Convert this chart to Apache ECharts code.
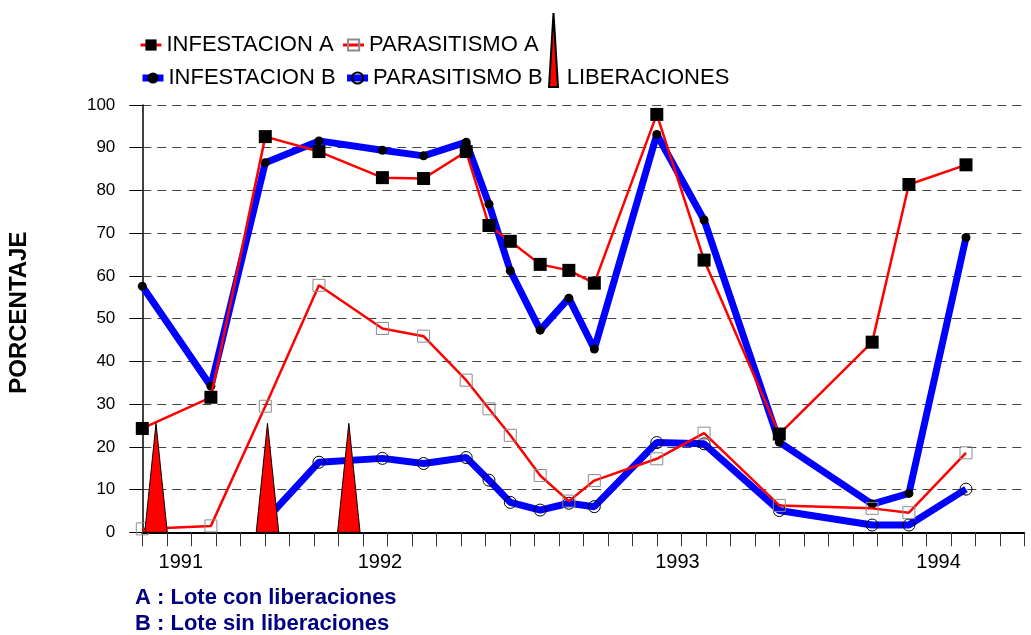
<!DOCTYPE html>
<html>
<head>
<meta charset="utf-8">
<title>Porcentaje de infestacion y parasitismo</title>
<script src="https://cdn.jsdelivr.net/npm/echarts@6/dist/echarts.min.js"></script>
<style>
  html, body { margin: 0; padding: 0; background: #fff; }
  #chart { width: 1031px; height: 635px; }
</style>
</head>
<body>
<div id="chart"></div>
<script>
// posicion de cada muestreo sobre el eje (1 division = 1 marca del eje)
var samplePos = [0, 2.8, 5.02, 7.21, 9.8, 11.48, 13.22, 14.15, 15.02, 16.24, 17.41, 18.45, 21.0, 22.93, 26.0, 29.79, 31.29, 33.62];

// lote A (con liberaciones)
var infestacionA = [24.3, 31.6, 92.6, 89.1, 83.0, 82.8, 89.1, 71.8, 68.1, 62.7, 61.3, 58.3, 97.8, 63.7, 23.0, 44.5, 81.4, 86.0];
var parasitismoA = [0.8, 1.5, 29.5, 57.8, 47.7, 45.9, 35.6, 28.9, 22.7, 13.3, 7.3, 12.1, 17.2, 23.2, 6.3, 5.6, 4.6, 18.6];

// lote B (sin liberaciones)
var infestacionB = [57.6, 34.2, 86.5, 91.6, 89.4, 88.1, 91.3, 76.8, 61.2, 47.3, 54.8, 42.9, 93.1, 73.1, 21.1, 6.6, 9.1, 69.0];
var parasitismoB = [null, null, 2.8, 16.4, 17.3, 16.1, 17.5, 12.2, 7.0, 5.2, 6.8, 6.0, 21.0, 20.7, 5.1, 1.7, 1.7, 10.1];

// liberaciones (triangulos)
var liberacionPos = [0.56, 5.11, 8.43];
var liberacionAlto = [25.5, 25.5, 25.5];

// etiquetas de años en el eje x
var yearPos = [1.57, 9.7, 21.84, 32.5];
var yearLabels = ['1991', '1992', '1993', '1994'];

var FONT = 'Liberation Sans, Arial, sans-serif';

function pairs(values) {
  return samplePos.map(function (x, i) { return [x, values[i]]; });
}

var chart = echarts.init(document.getElementById('chart'));

var legendText = { fontSize: 22, color: '#000', fontFamily: FONT };

var option = {
  animation: false,
  textStyle: { fontFamily: FONT },
  grid: { left: 142.3, right: 6.7, top: 105, bottom: 102.7, outerBoundsMode: 'none' },
  legend: [
    {
      left: 134, top: 29, itemWidth: 21, itemHeight: 14, itemGap: 8,
      textStyle: legendText,
      data: [
        { name: 'INFESTACION A', lineStyle: { width: 3 } },
        { name: 'PARASITISMO A', lineStyle: { width: 3 } }
      ]
    },
    {
      left: 134, top: 62, itemWidth: 21, itemHeight: 14, itemGap: 8,
      textStyle: legendText,
      data: [
        { name: 'INFESTACION B', lineStyle: { width: 7 } },
        { name: 'PARASITISMO B', lineStyle: { width: 7 } }
      ]
    },
    {
      // triangulo alto que ocupa las dos filas (sin texto)
      left: 543, top: 7, itemWidth: 9, itemHeight: 74,
      formatter: function () { return ''; },
      data: [{ name: 'LIBERACIONES', icon: 'triangle' }]
    },
    {
      // texto de LIBERACIONES en la segunda fila
      left: 556.6, top: 62, itemWidth: 0.1, itemHeight: 4,
      textStyle: legendText,
      data: [{ name: 'LIBERACIONES', icon: 'rect', itemStyle: { color: 'rgba(0,0,0,0)', borderWidth: 0 } }]
    }
  ],
  xAxis: {
    type: 'value',
    min: 0,
    max: 36,
    interval: 1,
    axisLine: { lineStyle: { color: '#000', width: 2 } },
    axisTick: { show: true, length: 14, lineStyle: { color: '#333', width: 1 } },
    axisLabel: {
      customValues: yearPos,
      margin: 20,
      fontSize: 20,
      color: '#000',
      formatter: function (v) {
        var i = yearPos.indexOf(v);
        return i >= 0 ? yearLabels[i] : '';
      }
    },
    splitLine: { show: false }
  },
  yAxis: {
    type: 'value',
    min: 0,
    max: 100,
    interval: 10,
    name: 'PORCENTAJE',
    nameLocation: 'middle',
    nameRotate: 90,
    nameGap: 111,
    nameTextStyle: { fontSize: 24, fontWeight: 'bold', color: '#000', fontFamily: FONT, padding: [0, 0, 0, 12] },
    axisLine: { show: true, lineStyle: { color: '#000', width: 1.5 } },
    axisTick: { show: true, length: 13, lineStyle: { color: '#000' } },
    axisLabel: { fontSize: 17, color: '#000', margin: 27 },
    splitLine: { show: true, lineStyle: { color: '#444', type: [9, 6], width: 1 } }
  },
  series: [
    {
      name: 'INFESTACION A',
      type: 'line',
      z: 3,
      symbol: 'rect',
      symbolSize: 13,
      itemStyle: { color: '#000' },
      lineStyle: { color: '#ff0000', width: 2.5 },
      data: pairs(infestacionA)
    },
    {
      name: 'PARASITISMO A',
      type: 'line',
      z: 3,
      symbol: 'rect',
      symbolSize: 12,
      itemStyle: { color: 'rgba(0,0,0,0)', borderColor: '#8c8c8c', borderWidth: 1 },
      lineStyle: { color: '#ff0000', width: 2.5 },
      data: pairs(parasitismoA)
    },
    {
      name: 'INFESTACION B',
      type: 'line',
      z: 2,
      symbol: 'circle',
      symbolSize: 9,
      itemStyle: { color: '#000' },
      lineStyle: { color: '#0000ff', width: 7 },
      data: pairs(infestacionB)
    },
    {
      name: 'PARASITISMO B',
      type: 'line',
      z: 2,
      symbol: 'circle',
      symbolSize: 12,
      itemStyle: { color: 'rgba(0,0,0,0)', borderColor: '#000', borderWidth: 1 },
      lineStyle: { color: '#0000ff', width: 7 },
      data: pairs(parasitismoB)
    },
    {
      name: 'LIBERACIONES',
      type: 'custom',
      z: 5,
      itemStyle: { color: '#ff0000', borderColor: '#000', borderWidth: 1 },
      encode: { x: 0, y: 1 },
      renderItem: function (params, api) {
        var x = api.value(0);
        var h = api.value(1);
        var half = 0.46; // medio ancho de la base, en divisiones
        var p1 = api.coord([x - half, 0]);
        var p2 = api.coord([x, h]);
        var p3 = api.coord([x + half, 0]);
        return {
          type: 'polygon',
          shape: { points: [p1, p2, p3] },
          style: { fill: '#ff0000', stroke: '#000', lineWidth: 1 }
        };
      },
      data: liberacionPos.map(function (x, i) { return [x, liberacionAlto[i]]; })
    }
  ],
  graphic: [
    {
      type: 'text', left: 135, top: 587,
      style: { text: 'A : Lote con liberaciones', fontSize: 22, fontWeight: 'bold', fontFamily: FONT, fill: '#000080' }
    },
    {
      type: 'text', left: 135, top: 613,
      style: { text: 'B : Lote sin liberaciones', fontSize: 22, fontWeight: 'bold', fontFamily: FONT, fill: '#000080' }
    }
  ]
};

chart.setOption(option);
</script>
</body>
</html>
